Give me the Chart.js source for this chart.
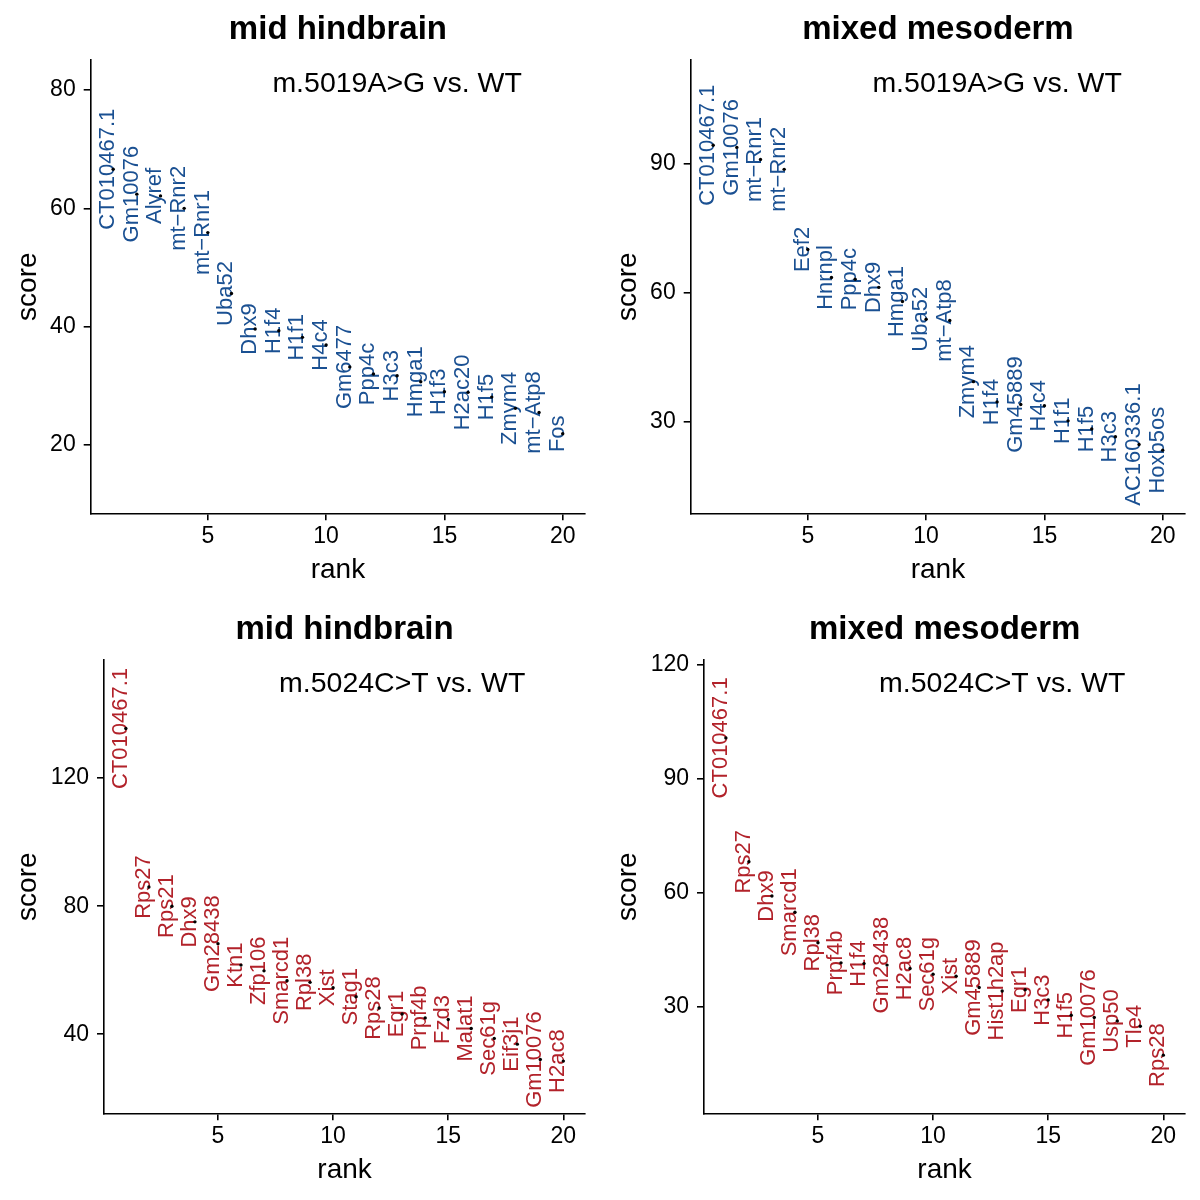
<!DOCTYPE html>
<html><head><meta charset="utf-8">
<script src="https://cdn.jsdelivr.net/npm/chart.js@4.4.1/dist/chart.umd.min.js"></script>
<style>
html,body{margin:0;padding:0;background:#fff;}
#wrap{position:relative;width:1200px;height:1200px;background:#fff;}
.p{position:absolute;width:600px;height:600px;}
canvas{display:block;}
</style></head><body>
<div id="wrap">
<div class="p" style="left:0;top:0"><canvas id="c1" width="600" height="600"></canvas></div>
<div class="p" style="left:600px;top:0"><canvas id="c2" width="600" height="600"></canvas></div>
<div class="p" style="left:0;top:600px"><canvas id="c3" width="600" height="600"></canvas></div>
<div class="p" style="left:600px;top:600px"><canvas id="c4" width="600" height="600"></canvas></div>
</div>
<script>
// ---------- data ----------
const ranks = [1,2,3,4,5,6,7,8,9,10,11,12,13,14,15,16,17,18,19,20];
const xTickValues = [5,10,15,20];
const comparisonRank = 13;

const titleLeft = 'mid hindbrain';
const titleRight = 'mixed mesoderm';
const comparisonTop = 'm.5019A>G vs. WT';
const comparisonBottom = 'm.5024C>T vs. WT';

const genesTL = ['CT010467.1','Gm10076','Alyref','mt\u2212Rnr2','mt\u2212Rnr1','Uba52','Dhx9','H1f4','H1f1','H4c4','Gm6477','Ppp4c','H3c3','Hmga1','H1f3','H2ac20','H1f5','Zmym4','mt\u2212Atp8','Fos'];
const scoresTL = [66.6,62.4,62.1,60.0,55.9,45.6,39.6,39.3,38.2,36.9,33.2,32.0,31.7,30.7,29.0,28.9,28.1,26.2,25.5,21.9];
const yTicksTL = [20,40,60,80];

const genesTR = ['CT010467.1','Gm10076','mt\u2212Rnr1','mt\u2212Rnr2','Eef2','Hnrnpl','Ppp4c','Dhx9','Hmga1','Uba52','mt\u2212Atp8','Zmym4','H1f4','Gm45889','H4c4','H1f1','H1f5','H3c3','AC160336.1','Hoxb5os'];
const scoresTR = [94.2,93.7,90.9,88.6,70.0,63.5,63.1,61.2,57.9,53.8,53.5,39.3,34.6,34.0,33.7,30.2,28.3,26.5,24.7,23.4];
const yTicksTR = [30,60,90];

const genesBL = ['CT010467.1','Rps27','Rps21','Dhx9','Gm28438','Ktn1','Zfp106','Smarcd1','Rpl38','Xist','Stag1','Rps28','Egr1','Prpf4b','Fzd3','Malat1','Sec61g','Eif3j1','Gm10076','H2ac8'];
const scoresBL = [135.5,86.0,80.0,75.1,68.3,61.6,59.8,56.7,56.2,54.5,51.7,48.2,46.3,45.1,44.6,41.8,38.7,36.9,32.1,31.6];
const yTicksBL = [40,80,120];

const genesBR = ['CT010467.1','Rps27','Dhx9','Smarcd1','Rpl38','Prpf4b','H1f4','Gm28438','H2ac8','Sec61g','Xist','Gm45889','Hist1h2ap','Egr1','H3c3','H1f5','Gm10076','Usp50','Tle4','Rps28'];
const scoresBR = [100.8,68.2,59.2,54.9,46.9,41.6,41.4,41.0,40.1,38.6,38.1,35.1,34.2,34.5,31.8,27.8,27.2,26.3,24.9,17.3];
const yTicksBR = [30,60,90,120];

// axis limits
const xLimits = [0.05, 20.95];
const yLimitsTL = [8.46, 85.07];
const yLimitsTR = [8.73, 114.0];
const yLimitsBL = [15.3, 156.9];
const yLimitsBR = [2.0, 121.3];

// ---------- styling ----------
const FONT = "'Liberation Sans', Arial, Helvetica, sans-serif";
Chart.defaults.font.family = FONT;
const BLUE = '#1a5092';
const RED = '#b2222a';

const labelPlugin = {
  id: 'geneLabels',
  beforeDatasetsDraw(chart, args, opts) {
    const ctx = chart.ctx;
    const meta = chart.getDatasetMeta(0);
    ctx.save();
    ctx.font = '22px ' + FONT;
    ctx.fillStyle = opts.color;
    ctx.textAlign = 'center';
    ctx.textBaseline = 'alphabetic';
    meta.data.forEach((pt, i) => {
      ctx.save();
      ctx.translate(pt.x + 1, pt.y);
      ctx.rotate(-Math.PI / 2);
      ctx.fillText(opts.labels[i], 0, 0);
      ctx.restore();
    });
    ctx.restore();
  },
  afterDraw(chart, args, opts) {
    const ctx = chart.ctx;
    const ca = chart.chartArea;
    ctx.save();
    ctx.fillStyle = '#000';
    ctx.textAlign = 'center';
    ctx.textBaseline = 'alphabetic';
    ctx.font = 'bold 33px ' + FONT;
    ctx.fillText(opts.title, (ca.left + ca.right) / 2, 39);
    ctx.font = '28.5px ' + FONT;
    ctx.fillText(opts.comparison, chart.scales.x.getPixelForValue(comparisonRank), ca.top + 32);
    ctx.restore();
  }
};

function makeChart(id, cfg) {
  const pts = ranks.map((r, i) => ({x: r, y: cfg.scores[i]}));
  return new Chart(document.getElementById(id), {
    type: 'scatter',
    data: {datasets: [{data: pts, pointRadius: 1.7, pointBackgroundColor: '#000', pointBorderWidth: 0, pointHoverRadius: 1.7}]},
    options: {
      responsive: false, animation: false, devicePixelRatio: 1,
      layout: {padding: {top: 60, left: 0, right: 14.8, bottom: 0}},
      plugins: {
        legend: {display: false}, tooltip: {enabled: false},
        geneLabels: {labels: cfg.genes, color: cfg.color, title: cfg.title, comparison: cfg.comparison}
      },
      scales: {
        x: {
          type: 'linear', min: xLimits[0], max: xLimits[1],
          afterBuildTicks: s => { s.ticks = xTickValues.map(v => ({value: v})); },
          afterFit: s => { s.height = 600 - 513.3; },
          grid: {drawOnChartArea: false, color: '#000', lineWidth: 1.6, tickLength: 7},
          border: {color: '#000', width: 1.6},
          ticks: {color: '#000', font: {size: 23}, padding: 3, maxRotation: 0, autoSkip: false},
          title: {display: true, text: 'rank', color: '#000', font: {size: 28}, padding: {top: 0, bottom: 13}}
        },
        y: {
          type: 'linear', min: cfg.ylim[0], max: cfg.ylim[1],
          afterBuildTicks: s => { s.ticks = cfg.yticks.map(v => ({value: v})); },
          afterFit: s => { s.width = cfg.left; },
          grid: {drawOnChartArea: false, color: '#000', lineWidth: 1.6, tickLength: 7},
          border: {color: '#000', width: 1.6},
          ticks: {color: '#000', font: {size: 23}, padding: 8, autoSkip: false},
          title: {display: true, text: 'score', color: '#000', font: {size: 28}, padding: {top: 11, bottom: 0}}
        }
      }
    },
    plugins: [labelPlugin]
  });
}

makeChart('c1', {genes: genesTL, scores: scoresTL, yticks: yTicksTL, ylim: yLimitsTL, color: BLUE, title: titleLeft, comparison: comparisonTop, left: 90.7});
makeChart('c2', {genes: genesTR, scores: scoresTR, yticks: yTicksTR, ylim: yLimitsTR, color: BLUE, title: titleRight, comparison: comparisonTop, left: 90.7});
makeChart('c3', {genes: genesBL, scores: scoresBL, yticks: yTicksBL, ylim: yLimitsBL, color: RED, title: titleLeft, comparison: comparisonBottom, left: 104});
makeChart('c4', {genes: genesBR, scores: scoresBR, yticks: yTicksBR, ylim: yLimitsBR, color: RED, title: titleRight, comparison: comparisonBottom, left: 104});
</script>
</body></html>
